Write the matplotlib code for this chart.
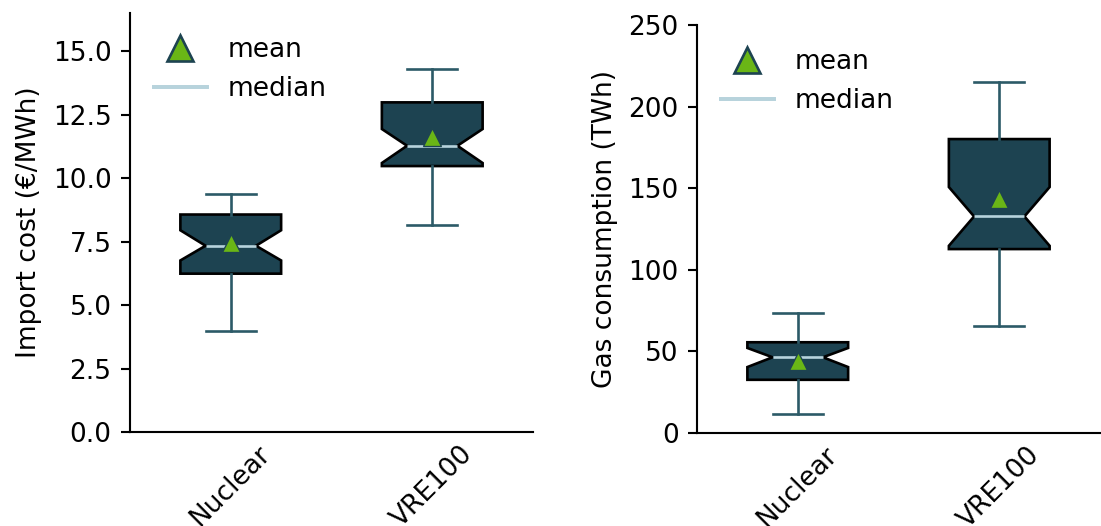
import matplotlib

matplotlib.use("Agg")
import matplotlib.pyplot as plt
from matplotlib.lines import Line2D

SCENARIOS = ["Nuclear", "VRE100"]

BOX_FACE = "#1d4351"
WHISKER = "#2c5a67"
MEDIAN = "#b7d3dc"
MEAN = "#6ab616"

# summary stats: [Nuclear, VRE100]
import_whislo = [3.97, 8.15]
import_q1 = [6.24, 10.48]
import_med = [7.34, 11.28]
import_q3 = [8.57, 12.99]
import_whishi = [9.38, 14.3]
import_mean = [7.44, 11.63]
import_cilo = [6.76, 10.60]
import_cihi = [7.95, 11.94]

gas_whislo = [11.5, 65.5]
gas_q1 = [32.6, 112.7]
gas_med = [46.4, 132.7]
gas_q3 = [55.6, 180.1]
gas_whishi = [73.8, 215.2]
gas_mean = [43.9, 143.2]
gas_cilo = [40.4, 114.7]
gas_cihi = [52.1, 150.7]


def make_stats(whislo, q1, med, q3, whishi, mean, cilo, cihi):
    stats = []
    for i, name in enumerate(SCENARIOS):
        stats.append({
            "label": name,
            "whislo": whislo[i], "q1": q1[i], "med": med[i], "q3": q3[i],
            "whishi": whishi[i], "mean": mean[i],
            "cilo": cilo[i], "cihi": cihi[i], "fliers": [],
        })
    return stats


def draw(ax, stats, ylabel, ylim, yticks):
    ax.bxp(
        stats, widths=0.5, shownotches=True, showmeans=True, patch_artist=True,
        boxprops=dict(facecolor=BOX_FACE, edgecolor="black", linewidth=1.0),
        whiskerprops=dict(color=WHISKER, linewidth=1.0),
        capprops=dict(color=WHISKER, linewidth=1.0),
        medianprops=dict(color=MEDIAN, linewidth=1.0),
        meanprops=dict(marker="^", markerfacecolor=MEAN, markeredgecolor=BOX_FACE,
                       markeredgewidth=0.5, markersize=7),
    )
    ax.set_xlim(0.5, 2.5)
    ax.set_ylim(*ylim)
    ax.set_yticks(yticks)
    ax.set_ylabel(ylabel)
    ax.tick_params(axis="x", labelrotation=45, length=0)
    ax.spines["top"].set_visible(False)
    ax.spines["right"].set_visible(False)
    handles = [
        Line2D([], [], linestyle="none", marker="^", markerfacecolor=MEAN,
               markeredgecolor=BOX_FACE, markeredgewidth=1.0, markersize=10),
        Line2D([], [], color=MEDIAN, linewidth=1.5),
    ]
    ax.legend(handles, ["mean", "median"], loc="upper left", frameon=False)


fig = plt.figure(figsize=(1101 / 190, 526 / 190), dpi=190)
ax1 = fig.add_axes([130 / 1101, 1 - 432 / 526, 403 / 1101, (432 - 13.3) / 526])
ax2 = fig.add_axes([697 / 1101, 1 - 433 / 526, 403 / 1101, (433 - 25) / 526])

draw(ax1,
     make_stats(import_whislo, import_q1, import_med, import_q3, import_whishi,
                import_mean, import_cilo, import_cihi),
     "Import cost (€/MWh)", (0, 16.5), [0, 2.5, 5, 7.5, 10, 12.5, 15])
draw(ax2,
     make_stats(gas_whislo, gas_q1, gas_med, gas_q3, gas_whishi,
                gas_mean, gas_cilo, gas_cihi),
     "Gas consumption (TWh)", (0, 250), [0, 50, 100, 150, 200, 250])

fig.savefig("out.png", dpi=190)
